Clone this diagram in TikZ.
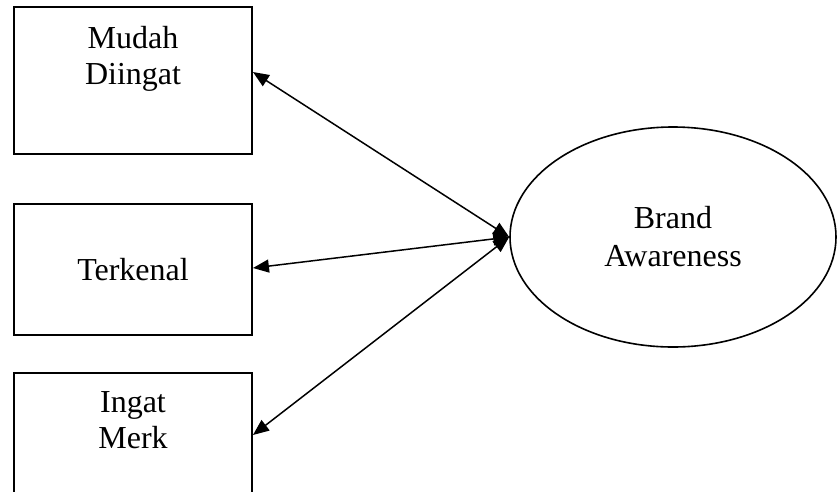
\documentclass[tikz,border=0pt]{standalone}
\usepackage{fontspec}
\setmainfont{Liberation Serif}
\usetikzlibrary{shapes.geometric,arrows.meta}

\begin{document}
\begin{tikzpicture}[x=1pt,y=-1pt,
    box/.style={draw,line width=1.9pt,minimum width=238pt,inner sep=0pt},
    txt/.style={font=\fontsize{32}{36}\selectfont,align=center,inner sep=0pt},
    link/.style={{Triangle[length=16pt,width=13pt]}-{Triangle[length=16pt,width=13pt]},line width=1.5pt}]
    \useasboundingbox (0,0) rectangle (838,491);
    \clip (0,0) rectangle (838,491);

    \node[box,minimum height=147pt] (mudah) at (133,80.5) {};
    \node[txt] (mudahtxt) at (133,58.5) {Mudah\\Diingat};

    \node[box,txt,minimum height=131pt] (terkenal) at (133,269.5) {Terkenal};

    \node[box,minimum height=147pt] (ingat) at (133,446.5) {};
    \node[txt] (ingattxt) at (133,420.5) {Ingat\\Merk};

    \node[ellipse,draw,line width=1.6pt,minimum width=326pt,minimum height=220pt,txt] (brand) at (673,237) {Brand\\[2pt]Awareness};

    \draw[link] ([yshift=8.5pt]mudah.east) -- (brand.west);
    \draw[link] ([yshift=1.5pt]terkenal.east) -- (brand.west);
    \draw[link] ([yshift=11.5pt]ingat.east) -- (brand.west);
\end{tikzpicture}
\end{document}
